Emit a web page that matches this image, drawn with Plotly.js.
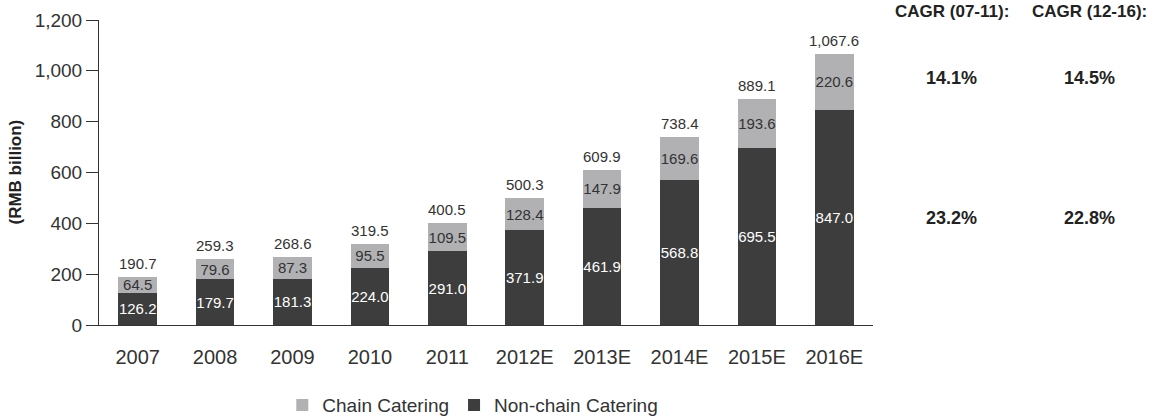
<!DOCTYPE html>
<html>
<head>
<meta charset="utf-8">
<script src="https://cdn.plot.ly/plotly-3.0.1.min.js"></script>
<style>html,body{margin:0;padding:0;background:#fff;}#chart{width:1156px;height:418px;}</style>
</head>
<body>
<div id="chart"></div>
<script>
const years = ["2007","2008","2009","2010","2011","2012E","2013E","2014E","2015E","2016E"];
const nonChain = [126.2,179.7,181.3,224.0,291.0,371.9,461.9,568.8,695.5,847.0];
const chain = [64.5,79.6,87.3,95.5,109.5,128.4,147.9,169.6,193.6,220.6];
const totals = [190.7,259.3,268.6,319.5,400.5,500.3,609.9,738.4,889.1,1067.6];
const cagrHeaders = ["CAGR (07-11):","CAGR (12-16):"];
const cagrChain = ["14.1%","14.5%"];
const cagrNonChain = ["23.2%","22.8%"];

const FONT = "Liberation Sans, Arial, sans-serif";
const fmt = v => v.toLocaleString("en-US",{minimumFractionDigits:1,maximumFractionDigits:1});

const traces = [
  {
    type:"bar", name:"Non-chain Catering", x:years, y:nonChain,
    marker:{color:"#3d3d3d"}, width:0.5,
    text:nonChain.map(fmt), textposition:"inside", insidetextanchor:"middle", textangle:0,
    constraintext:"none",
    textfont:{family:FONT,size:15,color:"#ffffff"}, hoverinfo:"none"
  },
  {
    type:"bar", name:"Chain Catering", x:years, y:chain,
    marker:{color:"#b1b1b3"}, width:0.5,
    text:chain.map(fmt), textposition:"inside", insidetextanchor:"middle", textangle:0,
    constraintext:"none",
    textfont:{family:FONT,size:15,color:"#333333"}, hoverinfo:"none"
  }
];

const annotations = [];
years.forEach((yr,i)=>{
  annotations.push({x:i,y:totals[i],xref:"x",yref:"y",text:fmt(totals[i]),showarrow:false,
    yanchor:"bottom",yshift:3,font:{family:FONT,size:15,color:"#333"}});
});
const cx = [1.102,1.280];
cagrHeaders.forEach((h,i)=>{
  annotations.push({x:cx[i],y:1.027,xref:"paper",yref:"paper",text:"<b>"+h+"</b>",showarrow:false,
    xanchor:"center",yanchor:"middle",font:{family:FONT,size:17,color:"#222"}});
  annotations.push({x:cx[i],y:0.81,xref:"paper",yref:"paper",text:"<b>"+cagrChain[i]+"</b>",showarrow:false,
    xanchor:"center",yanchor:"middle",font:{family:FONT,size:18,color:"#222"}});
  annotations.push({x:cx[i],y:0.351,xref:"paper",yref:"paper",text:"<b>"+cagrNonChain[i]+"</b>",showarrow:false,
    xanchor:"center",yanchor:"middle",font:{family:FONT,size:18,color:"#222"}});
});
annotations.push({x:-0.1085,y:0.5,xref:"paper",yref:"paper",text:"<b>(RMB billion)</b>",textangle:-90,
  showarrow:false,xanchor:"center",yanchor:"middle",font:{family:FONT,size:17,color:"#222"}});

const layout = {
  width:1156, height:418,
  margin:{l:99,r:283,t:20,b:93,autoexpand:false},
  barmode:"stack",
  paper_bgcolor:"#fff", plot_bgcolor:"#fff",
  showlegend:true,
  legend:{orientation:"h",xref:"container",yref:"container",x:0.409,xanchor:"center",y:0.031,yanchor:"middle",
    traceorder:"reversed",font:{family:FONT,size:19,color:"#333"}},
  xaxis:{type:"category",range:[-0.5,9.5],showline:true,linecolor:"#333",linewidth:1,
    ticks:"",showgrid:false,zeroline:false,ticklabelstandoff:14,
    tickfont:{family:FONT,size:20,color:"#333"}},
  yaxis:{range:[0,1200],tickvals:[0,200,400,600,800,1000,1200],
    ticktext:["0","200","400","600","800","1,000","1,200"],
    showline:true,linecolor:"#333",linewidth:1,ticks:"outside",ticklen:12,tickcolor:"#333",
    showgrid:false,zeroline:false,tickfont:{family:FONT,size:19,color:"#333"}},
  annotations:annotations,
  font:{family:FONT,color:"#333"}
};

Plotly.newPlot("chart",traces,layout,{staticPlot:true,displayModeBar:false});
</script>
</body>
</html>
